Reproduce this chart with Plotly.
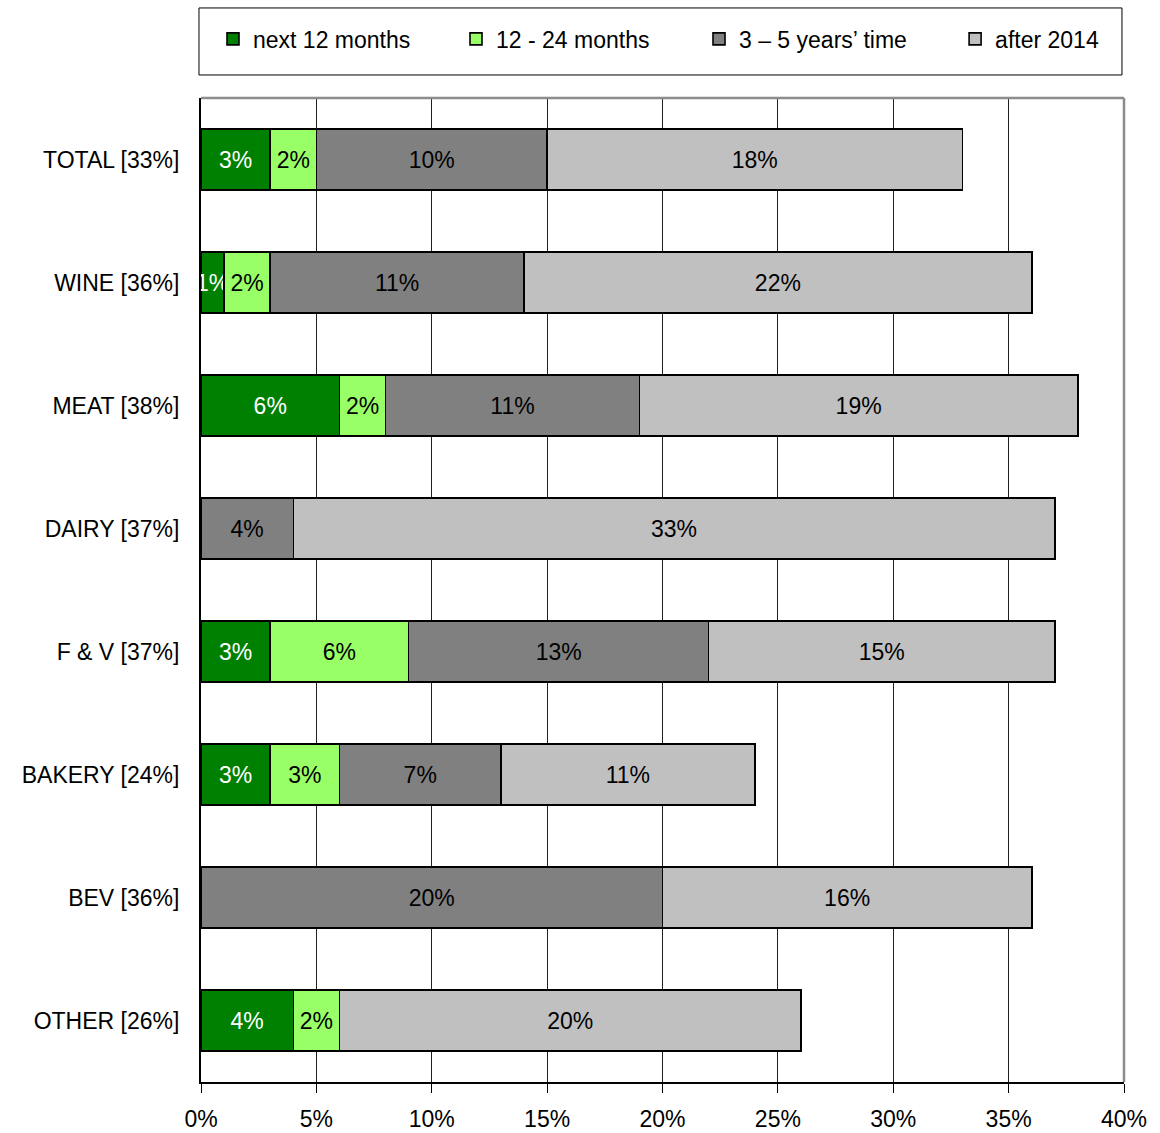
import plotly.graph_objects as go

# Share of stores planning a refit, by timing and department
categories = ["TOTAL [33%]", "WINE [36%]", "MEAT [38%]", "DAIRY [37%]",
              "F & V [37%]", "BAKERY [24%]", "BEV [36%]", "OTHER [26%]"]

next_12_months = [3, 1, 6, None, 3, 3, None, 4]
months_12_24 = [2, 2, 2, None, 6, 3, None, 2]
years_3_5 = [10, 11, 11, 4, 13, 7, 20, None]
after_2014 = [18, 22, 19, 33, 15, 11, 16, 20]

# name, values, fill colour, label colour, legend group
series = [
    ("next 12 months", next_12_months, "#008000", "white", "legend"),
    ("12 - 24 months", months_12_24, "#99FF66", "black", "legend"),
    ("3 \u2013 5 years\u2019 time", years_3_5, "#808080", "black", "legend"),
    ("after 2014", after_2014, "#C0C0C0", "black", "legend2"),
]

x_ticks = [0, 5, 10, 15, 20, 25, 30, 35, 40]
x_tick_labels = [f"{t}%" for t in x_ticks]

FONT = "Liberation Sans, Arial, sans-serif"
FS = 23

fig = go.Figure()
for name, vals, color, txtcolor, leg in series:
    fig.add_trace(go.Bar(
        name=name,
        y=categories,
        x=vals,
        orientation="h",
        marker=dict(color=color, line=dict(color="black", width=1.6)),
        width=0.5,
        text=[f"{v}%" if v is not None else "" for v in vals],
        textposition="inside",
        insidetextanchor="middle",
        textangle=0,
        constraintext="none",
        textfont=dict(family=FONT, size=FS, color=txtcolor),
        hoverinfo="skip",
        legend=leg,
    ))

legend_common = dict(
    orientation="h",
    yanchor="middle",
    y=1.06,
    font=dict(family=FONT, size=FS, color="black"),
    bgcolor="rgba(0,0,0,0)",
    borderwidth=0,
    traceorder="normal",
)

fig.update_layout(
    barmode="stack",
    width=1160,
    height=1133,
    margin=dict(l=201, r=36, t=98, b=51, autoexpand=False),
    paper_bgcolor="white",
    plot_bgcolor="white",
    font=dict(family=FONT, size=FS, color="black"),
    showlegend=True,
    legend=dict(x=0.013, xanchor="left", entrywidth=198,
                entrywidthmode="pixels", **legend_common),
    legend2=dict(x=0.817, xanchor="left", **legend_common),
    xaxis=dict(
        range=[0, 40],
        tickvals=x_ticks,
        ticktext=x_tick_labels,
        showgrid=True,
        gridcolor="#202020",
        gridwidth=1,
        zeroline=False,
        showline=True,
        linecolor="black",
        linewidth=2,
        ticks="outside",
        ticklen=9,
        tickcolor="black",
        tickwidth=1,
        ticklabelstandoff=6,
        tickfont=dict(family=FONT, size=FS),
        automargin=False,
        fixedrange=True,
    ),
    yaxis=dict(
        categoryorder="array",
        categoryarray=categories,
        autorange="reversed",
        showgrid=False,
        showline=True,
        linecolor="black",
        linewidth=2,
        ticks="",
        ticklabelstandoff=15,
        tickfont=dict(family=FONT, size=FS),
        automargin=False,
        fixedrange=True,
    ),
    shapes=[
        # gray frame on the top and right of the plotting area
        dict(type="line", xref="paper", yref="paper", x0=0, x1=1, y0=1, y1=1,
             line=dict(color="#8C8C8C", width=2.5)),
        dict(type="line", xref="paper", yref="paper", x0=1, x1=1, y0=0, y1=1,
             line=dict(color="#8C8C8C", width=2.5)),
        # legend box
        dict(type="rect", xref="paper", yref="paper",
             x0=-0.0022, x1=0.9978, y0=1.0234, y1=1.0915,
             line=dict(color="black", width=1)),
    ],
)

fig.write_html("out.html")
